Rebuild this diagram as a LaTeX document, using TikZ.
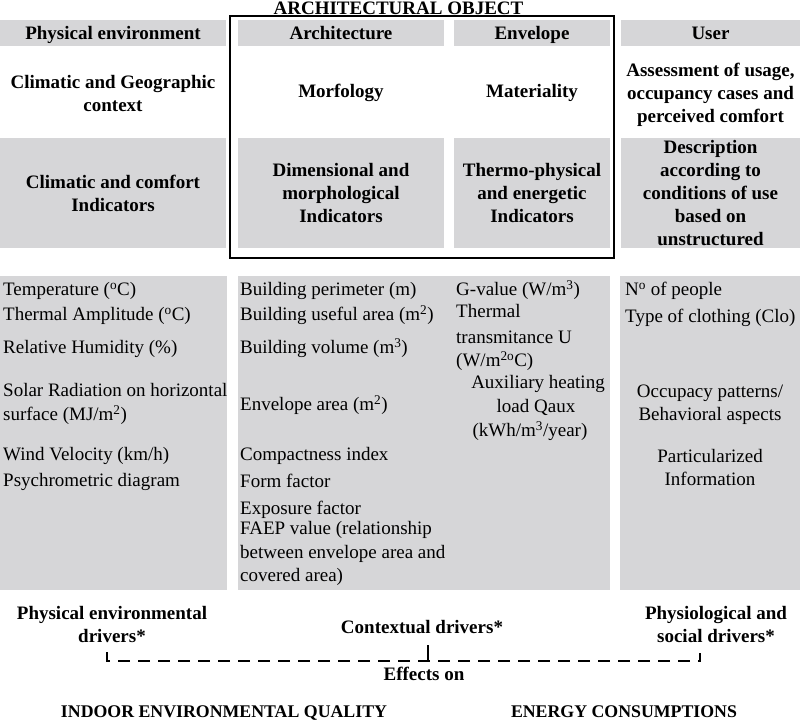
\documentclass[tikz,border=0pt]{standalone}
\usepackage{fontspec}
\setmainfont{Liberation Serif}
\definecolor{boxgray}{RGB}{214,214,216}
\tikzset{
  txt/.style={font=\fontsize{19}{23}\selectfont, inner sep=0pt},
  btxt/.style={font=\fontsize{19}{23}\selectfont\bfseries, inner sep=0pt, align=center},
  gbox/.style={fill=boxgray, draw=none, inner sep=0pt, align=center, font=\fontsize{19}{23}\selectfont\bfseries},
  hbox/.style={gbox, text height=15pt, text depth=3pt},
  lt/.style={txt, anchor=west, text height=13pt, text depth=4pt},
  ct/.style={txt, align=center},
  captxt/.style={font=\fontsize{17.8}{21}\selectfont\bfseries, inner sep=0pt},
  dashline/.style={line width=1.6pt, dash pattern=on 12pt off 8pt},
  solidline/.style={line width=1.6pt}
}
\begin{document}
\begin{tikzpicture}[x=1pt,y=-1pt]
\useasboundingbox (0,0) rectangle (800,721);

% title and architectural object frame
\node[btxt, anchor=base] (title) at (398.5,14.5) {ARCHITECTURAL OBJECT};
\node[draw, line width=2pt, minimum width=384pt, minimum height=242pt, inner sep=0pt] (archframe) at (422,137) {};

% header row
\node[hbox, minimum width=226pt, minimum height=26pt] (hphys) at (113,33) {Physical environment};
\node[hbox, minimum width=206pt, minimum height=26pt] (harch) at (341,33) {Architecture};
\node[hbox, minimum width=156pt, minimum height=26pt] (henv) at (532,33) {Envelope};
\node[hbox, minimum width=179pt, minimum height=26pt] (huser) at (710.5,33) {User};

% second row (white)
\node[btxt] (cphys) at (113,93) {Climatic and Geographic\\context};
\node[btxt] (carch) at (341,93) {Morfology};
\node[btxt] (cenv) at (532,93) {Materiality};
\node[btxt] (cuser) at (710.5,95) {Assessment of usage,\\occupancy cases and\\perceived comfort};

% third row (grey)
\node[gbox, minimum width=226pt, minimum height=110pt] (iphys) at (113,193) {Climatic and comfort\\Indicators};
\node[gbox, minimum width=206pt, minimum height=110pt] (iarch) at (341,193) {Dimensional and\\morphological\\Indicators};
\node[gbox, minimum width=156pt, minimum height=110pt] (ienv) at (532,193) {Thermo-physical\\and energetic\\Indicators};
\node[gbox, minimum width=179pt, minimum height=110pt] (iuser) at (710.5,193) {Description\\according to\\conditions of use\\based on\\unstructured};

% fourth row (grey lists)
\node[gbox, minimum width=227pt, minimum height=314pt] (lphys) at (113.5,433) {};
\node[gbox, minimum width=372pt, minimum height=314pt] (lmid) at (424,433) {};
\node[gbox, minimum width=180pt, minimum height=314pt] (luser) at (710,433) {};

% physical environment list
\node[lt] (p1) at (3,291) {Temperature (\textsuperscript{o}C)};
\node[lt] (p2) at (3,316) {Thermal Amplitude (\textsuperscript{o}C)};
\node[lt] (p3) at (3,349) {Relative Humidity (\%)};
\node[lt] (p4) at (3,392) {Solar Radiation on horizontal};
\node[lt] (p5) at (3,416) {surface (MJ/m\textsuperscript{2})};
\node[lt] (p6) at (3,456) {Wind Velocity (km/h)};
\node[lt] (p7) at (3,482) {Psychrometric diagram};

% architecture list
\node[lt] (a1) at (240,291) {Building perimeter (m)};
\node[lt] (a2) at (240,316) {Building useful area (m\textsuperscript{2})};
\node[lt] (a3) at (240,349) {Building volume (m\textsuperscript{3})};
\node[lt] (a4) at (240,406) {Envelope area (m\textsuperscript{2})};
\node[lt] (a5) at (240,456) {Compactness index};
\node[lt] (a6) at (240,483) {Form factor};
\node[lt] (a7) at (240,510) {Exposure factor};
\node[lt] (a8) at (240,530) {FAEP value (relationship};
\node[lt] (a9) at (240,554) {between envelope area and};
\node[lt] (a10) at (240,577) {covered area)};

% envelope list
\node[lt] (e1) at (456,291) {G-value (W/m\textsuperscript{3})};
\node[lt] (e2) at (456,313) {Thermal};
\node[lt] (e3) at (456,339) {transmitance U};
\node[lt] (e4) at (456,362) {(W/m\textsuperscript{2o}C)};
\node[ct] (e5) at (538,384) {Auxiliary heating};
\node[ct] (e6) at (536,407) {load Qaux};
\node[ct] (e7) at (530,431) {(kWh/m\textsuperscript{3}/year)};

% user list
\node[lt] (u1) at (625,291) {N\textsuperscript{o} of people};
\node[lt] (u2) at (625,318) {Type of clothing (Clo)};
\node[ct] (u3) at (710,405) {Occupacy patterns/\\Behavioral aspects};
\node[ct] (u4) at (710,467) {Particularized\\Information};

% drivers
\node[btxt] (dphys) at (112,624) {Physical environmental\\drivers*};
\node[btxt] (dcont) at (422,627) {Contextual drivers*};
\node[btxt] (duser) at (716,624) {Physiological and\\social drivers*};
\node[btxt] (effects) at (424,674) {Effects on};
\node[captxt, anchor=base] (ieq) at (224,717) {INDOOR ENVIRONMENTAL QUALITY};
\node[captxt, anchor=base] (energy) at (624,717) {ENERGY CONSUMPTIONS};

% bracket connector
\coordinate (bl) at (107,652);
\coordinate (br) at (700,653);
\coordinate (bc) at (428,645);
\draw[dashline] (bl) -- ++(0,9) -| (br);
\draw[solidline] (bc) -- (bc |- 0,661);
\end{tikzpicture}
\end{document}
